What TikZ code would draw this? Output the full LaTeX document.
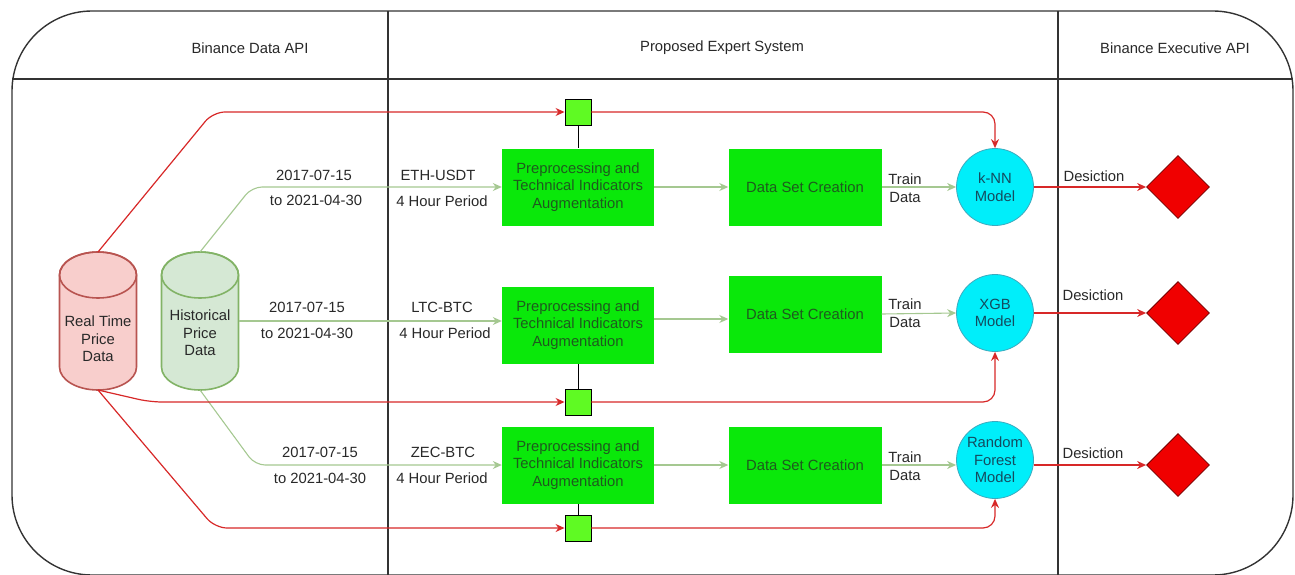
\documentclass[tikz,border=0pt]{standalone}
\usepackage{fontspec}
\setmainfont{Liberation Sans}
\usetikzlibrary{positioning, arrows.meta, shapes.geometric, calc}
\definecolor{framegray}{RGB}{51,51,51}
\definecolor{txtgray}{RGB}{40,40,40}
\definecolor{boxgreen}{RGB}{10,232,10}
\definecolor{boxtxt}{RGB}{30,90,30}
\definecolor{tapgreen}{RGB}{95,250,35}
\definecolor{modelcyan}{RGB}{0,238,250}
\definecolor{modeledge}{RGB}{60,170,190}
\definecolor{modeltxt}{RGB}{20,75,95}
\definecolor{feedred}{RGB}{215,40,40}
\definecolor{histgreen}{RGB}{165,200,145}
\definecolor{rtfill}{RGB}{248,206,204}
\definecolor{rtdraw}{RGB}{184,84,80}
\definecolor{hsfill}{RGB}{213,232,212}
\definecolor{hsdraw}{RGB}{130,179,102}
\tikzset{
    basefont/.style={font=\fontsize{14.8}{17.7}\selectfont},
    lbl/.style={basefont, text=txtgray, align=center, inner sep=0pt},
    storewall/.style={line width=1.6pt, line join=round},
    prepstep/.style={rectangle, fill=boxgreen, minimum width=152pt, minimum height=77pt, align=center, basefont, text=boxtxt, inner sep=0pt},
    dsstep/.style={rectangle, fill=boxgreen, minimum width=153pt, minimum height=77pt, align=center, basefont, text=boxtxt, inner sep=0pt},
    tapbox/.style={rectangle, draw=black, fill=tapgreen, minimum size=26pt, inner sep=0pt, line width=0.9pt},
    model/.style={circle, fill=modelcyan, draw=modeledge, minimum size=77pt, inner sep=0pt, align=center, basefont, text=modeltxt, line width=0.8pt},
    decision/.style={diamond, fill=red!94!black, draw=red!45!black, minimum width=63pt, minimum height=63pt, inner sep=0pt, line width=0.8pt},
    feedarr/.style={-{Stealth[length=9pt, width=8pt]}, draw=feedred, line width=1.2pt, rounded corners=12pt},
    histarr/.style={-{Stealth[length=9pt, width=8pt]}, draw=histgreen, line width=1.1pt, rounded corners=10pt},
    tapline/.style={draw=black, line width=0.9pt},
    lane/.style={draw=framegray, line width=1.4pt}
}
\begin{document}
\begin{tikzpicture}[x=1pt, y=-1pt]
    \useasboundingbox (0,0) rectangle (1295,575);

    % Frame and lanes
    \draw[lane, rounded corners=80pt] (12,11) rectangle (1293,575);
    \draw[lane] (12,79) -- (1293,79);
    \draw[lane] (388,11) -- (388,575);
    \draw[lane] (1058,11) -- (1058,575);
    \node[lbl] (hdrData) at (250,48) {Binance Data API};
    \node[lbl] (hdrExpert) at (722,48) {Proposed Expert System};
    \node[lbl] (hdrExec) at (1175,48) {Binance Executive API};

    % Data stores (cylinders)
    \foreach \cx/\fc/\dc in {98/rtfill/rtdraw, 200/hsfill/hsdraw} {
        \filldraw[storewall, fill=\fc, draw=\dc] (\cx-38.5,275) -- (\cx-38.5,367)
            arc[start angle=180, end angle=0, x radius=38.5, y radius=23]
            -- (\cx+38.5,275) arc[start angle=0, end angle=-180, x radius=38.5, y radius=23] -- cycle;
        \draw[storewall, draw=\dc] (\cx,275) ellipse[x radius=38.5, y radius=23];
    }
    \node[lbl] (rt) at (98,339) {Real Time\\Price\\Data};
    \node[lbl] (hist) at (200,333) {Historical\\Price\\Data};
    \coordinate (rtTop) at (98,252);
    \coordinate (rtBot) at (98,390);
    \coordinate (histTop) at (200,252);
    \coordinate (histBot) at (200,390);
    \coordinate (histSide) at (238.5,321);

    % Pipeline boxes
    \node[prepstep] (pp1) at (578,187) {Preprocessing and\\Technical Indicators\\Augmentation};
    \node[prepstep] (pp2) at (578,325) {Preprocessing and\\Technical Indicators\\Augmentation};
    \node[prepstep] (pp3) at (578,465) {Preprocessing and\\Technical Indicators\\Augmentation};
    \node[dsstep] (ds1) at (805,187) {Data Set Creation};
    \node[dsstep] (ds2) at (805,314) {Data Set Creation};
    \node[dsstep] (ds3) at (805,465) {Data Set Creation};

    % Real time taps
    \node[tapbox] (sq1) at (578,112) {};
    \node[tapbox] (sq2) at (578,402) {};
    \node[tapbox] (sq3) at (578,528) {};

    % Models and decisions
    \node[model] (knn) at (995,187) {k-NN\\Model};
    \node[model] (xgb) at (995,313) {XGB\\Model};
    \node[model] (rf) at (995,460) {Random\\Forest\\Model};
    \node[decision] (dec1) at (1178,187) {};
    \node[decision] (dec2) at (1178,313) {};
    \node[decision] (dec3) at (1178,465) {};

    % Historical feeds
    \draw[histarr] (histTop) -- (252,187) -- (pp1.west);
    \draw[histarr] (histSide) -- (histSide -| pp2.west);
    \draw[histarr] (histBot) -- (255,465) -- (pp3.west);
    \node[lbl] (from1) at (314,175) {2017-07-15};
    \node[lbl] (to1) at (316,200) {to 2021-04-30};
    \node[lbl] (from2) at (307,307) {2017-07-15};
    \node[lbl] (to2) at (307,333) {to 2021-04-30};
    \node[lbl] (from3) at (320,452) {2017-07-15};
    \node[lbl] (to3) at (320,478) {to 2021-04-30};
    \node[lbl] (pair1) at (438,175) {ETH-USDT};
    \node[lbl] (per1) at (442,201) {4 Hour Period};
    \node[lbl] (pair2) at (442,307) {LTC-BTC};
    \node[lbl] (per2) at (445,333) {4 Hour Period};
    \node[lbl] (pair3) at (443,452) {ZEC-BTC};
    \node[lbl] (per3) at (442,478) {4 Hour Period};

    % Real time feeds
    \draw[feedarr] (rtTop) -- (213,112) -- (sq1.west);
    \draw[feedarr] (rtBot) -- (150,402) -- (sq2.west);
    \draw[feedarr] (rtBot) -- (215,528) -- (sq3.west);
    \draw[feedarr] (sq1.east) -| (knn.north);
    \draw[feedarr] (sq2.east) -| (xgb.south);
    \draw[feedarr] (sq3.east) -| (rf.south);
    \draw[tapline] (sq1.south) -- (pp1.north);
    \draw[tapline] (sq2.north) -- (pp2.south);
    \draw[tapline] (sq3.north) -- (pp3.south);

    % Pipeline arrows
    \draw[histarr] (pp1.east) -- (ds1.west);
    \draw[histarr] ([yshift=6pt]pp2.east) -- ([yshift=6pt]pp2.east -| ds2.west);
    \draw[histarr] (pp3.east) -- (ds3.west);
    \draw[histarr] (ds1.east) -- (knn.west);
    \draw[histarr] (ds2.east) -- (xgb.west);
    \draw[histarr] (ds3.east) -- (ds3.east -| rf.west);
    \node[lbl] (train1) at (905,188) {Train\\Data};
    \node[lbl] (train2) at (905,313) {Train\\Data};
    \node[lbl] (train3) at (905,466) {Train\\Data};

    % Decision arrows
    \draw[feedarr] (knn.east) -- (dec1.west);
    \draw[feedarr] (xgb.east) -- (dec2.west);
    \draw[feedarr] (rf.east |- dec3.west) -- (dec3.west);
    \node[lbl] (desc1) at (1094,176) {Desiction};
    \node[lbl] (desc2) at (1093,295) {Desiction};
    \node[lbl] (desc3) at (1093,453) {Desiction};
\end{tikzpicture}
\end{document}
